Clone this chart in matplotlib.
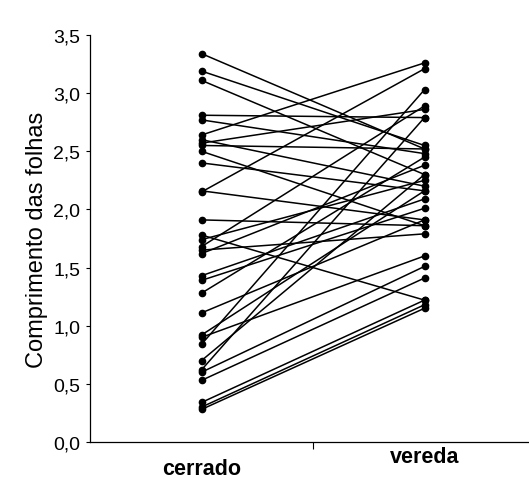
import matplotlib
matplotlib.use("Agg")
import matplotlib.pyplot as plt
from matplotlib.ticker import FuncFormatter
import matplotlib.transforms as mtransforms

categories = ["cerrado", "vereda"]
cerrado = [3.34, 3.19, 3.11, 2.81, 2.77, 2.64, 2.60, 2.57, 2.55, 2.50, 2.40,
           2.16, 2.15, 1.91, 1.78, 1.74, 1.68, 1.65, 1.62, 1.43, 1.39, 1.28,
           1.11, 0.92, 0.90, 0.84, 0.70, 0.62, 0.60, 0.53, 0.34, 0.30, 0.28]
vereda = [2.52, 2.55, 2.30, 2.79, 2.48, 3.26, 2.20, 2.86, 2.52, 1.86, 2.16,
          1.91, 3.21, 1.86, 1.22, 2.25, 2.89, 1.79, 2.38, 2.09, 2.01, 2.45,
          1.91, 2.16, 1.60, 3.03, 2.30, 2.79, 1.51, 1.41, 1.22, 1.18, 1.15]
yticks = [0.0, 0.5, 1.0, 1.5, 2.0, 2.5, 3.0, 3.5]

plt.rcParams['font.family'] = ['Liberation Sans', 'DejaVu Sans']

fig = plt.figure(figsize=(5.29, 4.85), dpi=100)
ax = fig.add_axes([90/529, (485-443)/485, 446/529, (443-36)/485])

xpos = [1, 2]
for c, v in zip(cerrado, vereda):
    ax.plot(xpos, [c, v], color='black', lw=1.1, marker='o', ms=4.5,
            mfc='black', mec='black', clip_on=False)

ax.set_xlim(0.5, 2.5)
ax.set_ylim(0, 3.5)
ax.set_yticks(yticks)
ax.yaxis.set_major_formatter(FuncFormatter(lambda v, p: f"{v:.1f}".replace('.', ',')))
ax.set_xticks([1.5, 2.5])
ax.set_xticklabels([])
ax.tick_params(axis='x', which='major', length=5, direction='out', width=0.8)
ax.tick_params(axis='y', length=3, direction='out', width=0.8, labelsize=14, pad=4)

# category labels (reference baseline is slightly tilted by the scan)
trans = mtransforms.blended_transform_factory(ax.transData, fig.transFigure)
label_y = [1 - 470/485, 1 - 458/485]
for x, lab, yy in zip(xpos, categories, label_y):
    ax.text(x, yy, lab, transform=trans, ha='center', va='center',
            fontsize=15.5, fontweight='bold')

for s in ['top', 'right']:
    ax.spines[s].set_visible(False)
ax.spines['left'].set_linewidth(0.9)
ax.spines['bottom'].set_linewidth(0.9)

ax.set_ylabel("Comprimento das folhas", fontsize=17, labelpad=4)

fig.savefig("out.png", dpi=100)
